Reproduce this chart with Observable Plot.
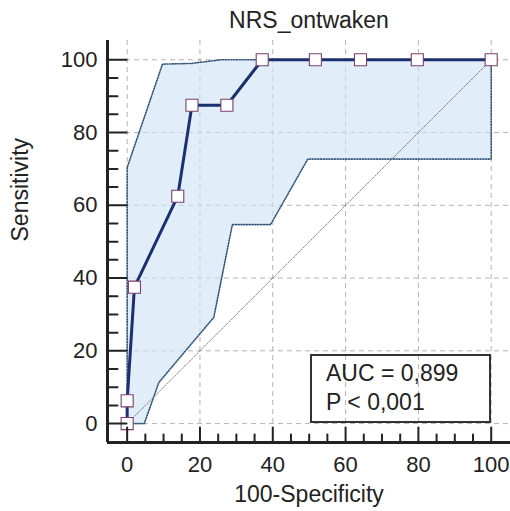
<!DOCTYPE html>
<html><head><meta charset="utf-8">
<script src="https://cdn.jsdelivr.net/npm/d3@7"></script>
<script src="https://cdn.jsdelivr.net/npm/@observablehq/plot@0.6"></script>
<style>
body{margin:0;background:#fff;}
#wrap{position:relative;width:510px;height:511px;font-family:"Liberation Sans",Arial,sans-serif;color:#222;}
#box{position:absolute;left:310px;top:354px;width:181px;height:69px;box-sizing:border-box;border:2px solid #333;padding:3px 0 0 14px;font-size:23px;line-height:29px;color:#222;background:transparent;}
</style></head>
<body><div id="wrap"></div>
<script>
// ROC curve (100-Specificity, Sensitivity)
const rocX = [0, 0, 2, 13.9, 17.8, 27.4, 37.1, 51.7, 64.1, 79.7, 100];
const rocY = [0, 6.25, 37.5, 62.5, 87.5, 87.5, 100, 100, 100, 100, 100];
// confidence band bounds
const ciUpperX = [0, 0, 9.7, 17.6, 25.8, 100];
const ciUpperY = [0, 70.4, 98.8, 99, 100, 100];
const ciLowerX = [0, 4.7, 8.7, 23.8, 28.9, 39.4, 49.6, 100, 100];
const ciLowerY = [0, 0, 11.3, 29.2, 54.7, 54.7, 72.7, 72.7, 100];
// reference diagonal
const diagX = [0, 100];
const diagY = [0, 100];
// ticks
const majorTicks = [0, 20, 40, 60, 80, 100];
const minorTicks = [5, 10, 15, 25, 30, 35, 45, 50, 55, 65, 70, 75, 85, 90, 95];
const xDomain = [-5.4, 105.3];
const yDomain = [-5.2, 105.3];
const title = "NRS_ontwaken";
const xLabel = "100-Specificity";
const yLabel = "Sensitivity";
const legendLines = ["AUC = 0,899", "P < 0,001"];

const roc = rocX.map((x, i) => ({x, y: rocY[i]}));
const upper = ciUpperX.map((x, i) => ({x, y: ciUpperY[i]}));
const lower = ciLowerX.map((x, i) => ({x, y: ciLowerY[i]}));
const band = upper.concat(lower.slice().reverse());
const diag = diagX.map((x, i) => ({x, y: diagY[i]}));

const tickShape = {draw(ctx, l) { ctx.moveTo(0, 0); ctx.lineTo(0, -l); }};
const font = "Liberation Sans, Arial, sans-serif";

const chart = Plot.plot({
  width: 510, height: 511,
  marginLeft: 107, marginRight: 0, marginTop: 40, marginBottom: 69,
  style: {fontFamily: font, color: "#222", background: "#fff"},
  x: {domain: xDomain},
  y: {domain: yDomain},
  marks: [
    Plot.gridX(majorTicks, {stroke: "#999", strokeOpacity: 0.75, strokeDasharray: "5,4"}),
    Plot.gridY(majorTicks, {stroke: "#999", strokeOpacity: 0.75, strokeDasharray: "5,4"}),
    Plot.line(band, {x: "x", y: "y", fill: "#cfe4f6", fillOpacity: 0.62, stroke: "none"}),
    Plot.line(band, {x: "x", y: "y", fill: "none", stroke: "#34557a", strokeWidth: 1.6, strokeDasharray: "1.2,1.6"}),
    Plot.line(diag, {x: "x", y: "y", stroke: "#777", strokeWidth: 0.9, strokeDasharray: "2,1.5"}),
    Plot.line(roc, {x: "x", y: "y", stroke: "#1c2f6e", strokeWidth: 3}),
    Plot.dot(roc, {x: "x", y: "y", symbol: "square", r: 6.8, fill: "#fff", stroke: "#7a3f6a", strokeWidth: 1.1}),
    Plot.ruleX([xDomain[0]], {stroke: "#222", strokeWidth: 3}),
    Plot.ruleY([yDomain[0]], {stroke: "#222", strokeWidth: 3}),
    Plot.vector(majorTicks, {x: d => d, frameAnchor: "bottom", length: 15, rotate: 0, anchor: "start", shape: tickShape, stroke: "#222", strokeWidth: 2}),
    Plot.vector(minorTicks, {x: d => d, frameAnchor: "bottom", length: 8, rotate: 0, anchor: "start", shape: tickShape, stroke: "#222", strokeWidth: 2}),
    Plot.vector(majorTicks, {y: d => d, frameAnchor: "left", length: 19, rotate: 90, anchor: "start", shape: tickShape, stroke: "#222", strokeWidth: 2}),
    Plot.vector(minorTicks, {y: d => d, frameAnchor: "left", length: 10, rotate: 90, anchor: "start", shape: tickShape, stroke: "#222", strokeWidth: 2}),
    Plot.axisX(majorTicks, {tickSize: 0, tickPadding: 14, fontSize: 22, label: null, fill: "#222"}),
    Plot.axisY(majorTicks, {tickSize: 0, tickPadding: 10, fontSize: 22, label: null, fill: "#222"}),
    Plot.text([title], {frameAnchor: "top", dy: -29, fontSize: 23, fill: "#222"}),
    Plot.text([xLabel], {frameAnchor: "bottom", dy: 59, fontSize: 23, fill: "#222"}),
    Plot.text([yLabel], {frameAnchor: "left", dx: -87, rotate: -90, fontSize: 23, fill: "#222"})
  ]
});
const wrap = document.getElementById("wrap");
wrap.appendChild(chart);
const box = document.createElement("div");
box.id = "box";
box.innerHTML = legendLines.map(s => `<div>${s.replace("<", "&lt;")}</div>`).join("");
wrap.appendChild(box);
</script>
</body></html>
